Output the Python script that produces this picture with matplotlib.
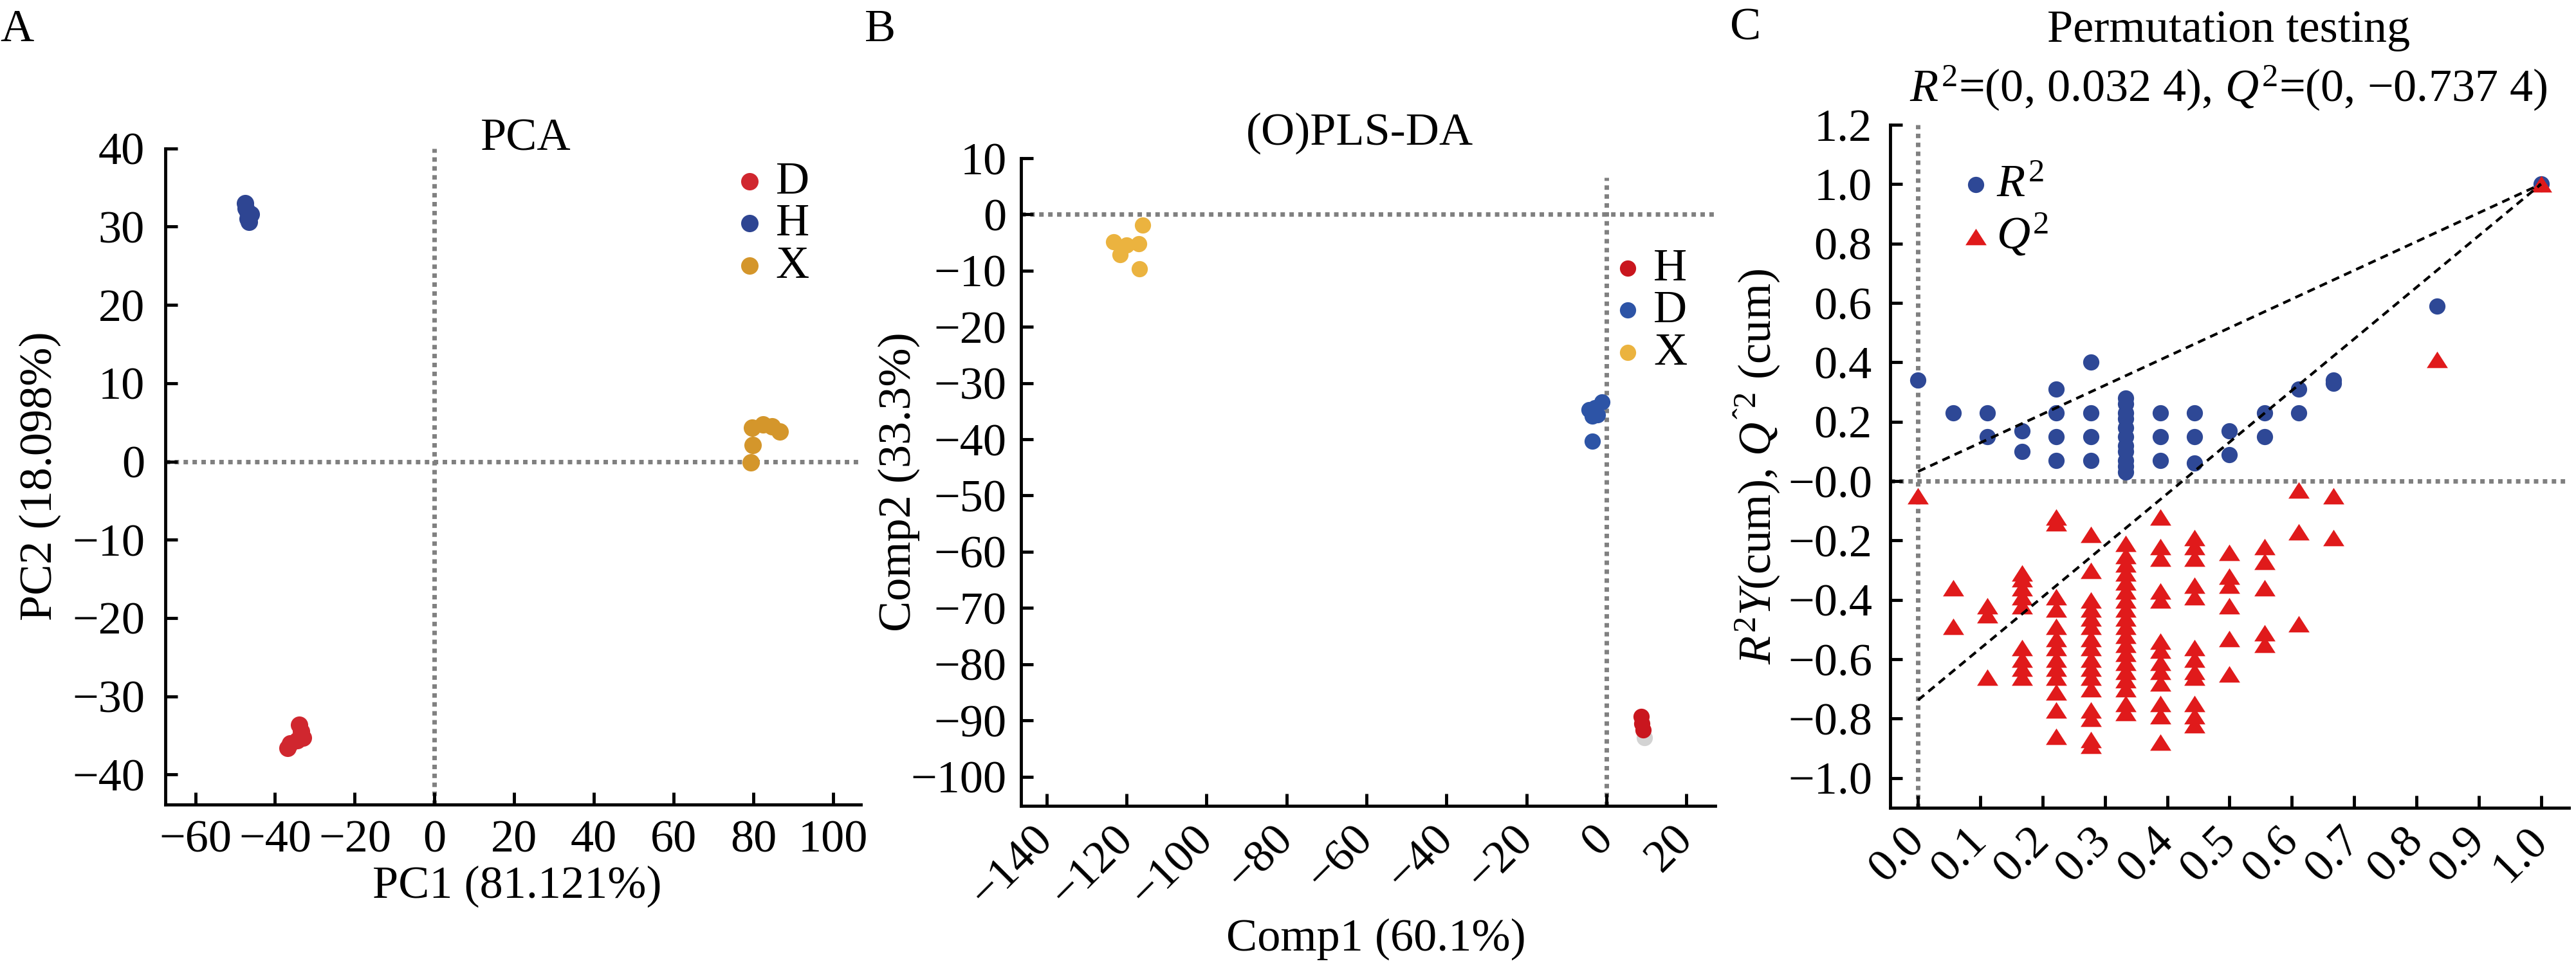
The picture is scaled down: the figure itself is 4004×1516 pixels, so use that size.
import matplotlib
matplotlib.use("Agg")
import matplotlib.pyplot as plt
import numpy as np
from matplotlib.ticker import FuncFormatter

plt.rcParams['font.family'] = ['Liberation Serif', 'DejaVu Serif']
plt.rcParams['mathtext.fontset'] = 'custom'
plt.rcParams['mathtext.rm'] = 'Liberation Serif'
plt.rcParams['mathtext.it'] = 'Liberation Serif:italic'
plt.rcParams['font.size'] = 52

# --- panel A: PCA scores ---
pca_D_x = [-34.0, -33.5, -33.0, -34.5, -36.2, -36.8]
pca_D_y = [-33.6, -34.5, -35.3, -35.6, -36.0, -36.6]
pca_H_x = [-47.5, -47.3, -46.8, -46.0, -46.8, -46.6]
pca_H_y = [33.0, 32.3, 31.8, 31.6, 31.0, 30.6]
pca_X_x = [79.6, 82.4, 84.6, 86.6, 79.8, 79.3]
pca_X_y = [4.3, 4.7, 4.5, 3.8, 2.1, -0.1]

# --- panel B: (O)PLS-DA scores ---
opls_H_x = [8.6, 8.9, 9.1]
opls_H_y = [-89.3, -90.6, -91.7]
opls_shadow_x = [9.5]
opls_shadow_y = [-93.1]
opls_D_x = [-4.3, -3.6, -2.9, -1.2, -2.3, -3.6]
opls_D_y = [-34.7, -35.9, -34.4, -33.3, -35.6, -40.3]
opls_X_x = [-123.2, -121.6, -120.0, -116.9, -116.0, -116.8]
opls_X_y = [-4.9, -7.2, -5.4, -5.2, -1.9, -9.7]

# --- panel C: permutation test ---
perm_cols = [0.0, 0.056, 0.111, 0.167, 0.222, 0.278, 0.333, 0.389,
             0.444, 0.5, 0.556, 0.611, 0.667, 0.833, 1.0]
r2_vals = [
    [0.34],
    [0.23],
    [0.23, 0.15],
    [0.17, 0.10],
    [0.31, 0.23, 0.15, 0.07],
    [0.40, 0.23, 0.15, 0.07],
    [0.28, 0.26, 0.23, 0.21, 0.18, 0.15, 0.12, 0.10, 0.07, 0.05, 0.03],
    [0.23, 0.15, 0.07],
    [0.23, 0.15, 0.06],
    [0.17, 0.09],
    [0.23, 0.15],
    [0.31, 0.23],
    [0.34, 0.33],
    [0.59],
    [1.0],
]
q2_vals = [
    [-0.05],
    [-0.36, -0.49],
    [-0.42, -0.45, -0.66],
    [-0.31, -0.33, -0.36, -0.39, -0.42, -0.56, -0.60, -0.63, -0.66],
    [-0.12, -0.14, -0.39, -0.43, -0.49, -0.53, -0.56, -0.60, -0.63, -0.66, -0.71, -0.77, -0.86],
    [-0.18, -0.30, -0.40, -0.43, -0.46, -0.49, -0.53, -0.56, -0.60, -0.63, -0.66, -0.70,
     -0.77, -0.80, -0.87, -0.89],
    [-0.21, -0.25, -0.28, -0.31, -0.34, -0.37, -0.40, -0.43, -0.46, -0.49, -0.52, -0.55,
     -0.58, -0.61, -0.64, -0.67, -0.70, -0.75, -0.78],
    [-0.12, -0.22, -0.26, -0.37, -0.40, -0.54, -0.57, -0.61, -0.64, -0.68, -0.75, -0.79, -0.88],
    [-0.19, -0.22, -0.26, -0.35, -0.39, -0.56, -0.60, -0.64, -0.66, -0.75, -0.79, -0.82],
    [-0.24, -0.32, -0.35, -0.42, -0.53, -0.65],
    [-0.22, -0.27, -0.36, -0.51, -0.55],
    [-0.03, -0.17, -0.48],
    [-0.05, -0.19],
    [0.41],
    [1.0],
]
fit_x = [0.0, 1.0]
r2_fit = [0.0324, 1.0]
q2_fit = [-0.7374, 1.0]

RED_A, BLUE_A, GOLD_A = '#d0272f', '#2e4592', '#d4962b'
RED_B, BLUE_B, GOLD_B = '#c9161e', '#2d54a6', '#ebb33f'
BLUE_C, RED_C = '#2e4896', '#e01a1b'
GREY = '#808080'
DOT = (0, (1, 1))
TRI = [(-1, -0.78), (1, -0.78), (0, 0.78)]


def style(ax, xpad, ypad):
    for s in ['top', 'right']:
        ax.spines[s].set_visible(False)
    for s in ['left', 'bottom']:
        ax.spines[s].set_linewidth(3.5)
    ax.tick_params(direction='in', length=14, width=3.5)
    ax.tick_params(axis='x', pad=xpad)
    ax.tick_params(axis='y', pad=ypad)


def minus(fmt):
    return FuncFormatter(lambda v, p: (fmt % np.round(v, 6)).replace('-', '\u2212'))


def tilt(ax):
    for lbl in ax.get_xticklabels():
        lbl.set_rotation(45)
        lbl.set_ha('right')
        lbl.set_va('center')
        lbl.set_rotation_mode('anchor')


fig = plt.figure(figsize=(40.04, 15.16), dpi=100)

# ---------------- A ----------------
ax = fig.add_axes([0.0642, 0.175, 0.2699, 0.6729])
ax.set_xlim(-67.5, 106.9)
ax.set_ylim(-43.8, 40)
ax.axhline(0, color=GREY, lw=5, ls=DOT, zorder=1)
ax.axvline(0, color=GREY, lw=5, ls=DOT, zorder=1)
ax.scatter(pca_D_x, pca_D_y, s=380, color=RED_A, lw=0, label='D', zorder=3)
ax.scatter(pca_H_x, pca_H_y, s=380, color=BLUE_A, lw=0, label='H', zorder=3)
ax.scatter(pca_X_x, pca_X_y, s=380, color=GOLD_A, lw=0, label='X', zorder=3)
ax.set_xticks(np.arange(-60, 101, 20))
ax.set_yticks(np.arange(-40, 41, 10))
ax.xaxis.set_major_formatter(minus('%d'))
ax.yaxis.set_major_formatter(minus('%d'))
style(ax, 17, 23)
ax.set_xlabel('PC1 (81.121%)')
ax.xaxis.set_label_coords(0.506, -0.093)
ax.set_ylabel('PC2 (18.098%)')
ax.yaxis.set_label_coords(-0.150, 0.5)
ax.text(0.518, 0.9967, 'PCA', transform=ax.transAxes, ha='center', va='baseline')
ax.legend(loc='upper left', bbox_to_anchor=(0.827, 0.981), frameon=False,
          handlelength=0.4, handletextpad=0.36, labelspacing=0.0,
          borderpad=0, borderaxespad=0, scatterpoints=1)

# ---------------- B ----------------
ax = fig.add_axes([0.3963, 0.1735, 0.2696, 0.6642])
ax.set_xlim(-146.4, 27.2)
ax.set_ylim(-105.2, 10)
ax.axhline(0, color=GREY, lw=5, ls=DOT, zorder=1)
ax.axvline(0, ymax=0.97, color=GREY, lw=5, ls=DOT, zorder=1)
ax.scatter(opls_shadow_x, opls_shadow_y, s=330, color='#d3d3d3', lw=0, zorder=2)
ax.scatter(opls_H_x, opls_H_y, s=330, color=RED_B, lw=0, label='H', zorder=3)
ax.scatter(opls_D_x, opls_D_y, s=330, color=BLUE_B, lw=0, label='D', zorder=3)
ax.scatter(opls_X_x, opls_X_y, s=330, color=GOLD_B, lw=0, label='X', zorder=3)
ax.set_xticks(np.arange(-140, 21, 20))
ax.set_yticks(np.arange(-100, 11, 10))
ax.xaxis.set_major_formatter(minus('%d'))
ax.yaxis.set_major_formatter(minus('%d'))
style(ax, 30, 16)
tilt(ax)
ax.set_xlabel('Comp1 (60.1%)')
ax.xaxis.set_label_coords(0.511, -0.173)
ax.set_ylabel('Comp2 (33.3%)')
ax.yaxis.set_label_coords(-0.145, 0.5)
ax.text(0.488, 1.0214, '(O)PLS-DA', transform=ax.transAxes, ha='center', va='baseline')
ax.legend(loc='upper left', bbox_to_anchor=(0.860, 0.862), frameon=False,
          handlelength=0.4, handletextpad=0.36, labelspacing=0.0,
          borderpad=0, borderaxespad=0, scatterpoints=1)

# ---------------- C ----------------
ax = fig.add_axes([0.7337, 0.1715, 0.2636, 0.7005])
ax.set_xlim(-0.045, 1.045)
ax.set_ylim(-1.1, 1.2)
ax.axhline(0, color=GREY, lw=5, ls=DOT, zorder=1)
ax.axvline(0, color=GREY, lw=5, ls=DOT, zorder=1)
r2_x = [c for c, vs in zip(perm_cols, r2_vals) for _ in vs]
r2_y = [v for vs in r2_vals for v in vs]
q2_x = [c for c, vs in zip(perm_cols, q2_vals) for _ in vs]
q2_y = [v for vs in q2_vals for v in vs]
ax.scatter(r2_x, r2_y, s=330, color=BLUE_C, lw=0, label='$R^2$', zorder=2)
ax.scatter(q2_x, q2_y, s=560, marker=TRI, color=RED_C, lw=0, label='$Q^2$', zorder=2)
ax.plot(fit_x, r2_fit, color='black', lw=3, ls=(0, (3, 2)), zorder=4)
ax.plot(fit_x, q2_fit, color='black', lw=3, ls=(0, (3, 2)), zorder=4)
ax.set_xticks(np.arange(0, 1.01, 0.1))
ax.set_yticks(np.arange(-1.0, 1.21, 0.2))
ax.xaxis.set_major_formatter(minus('%.1f'))
ax.yaxis.set_major_formatter(minus('%.1f'))
style(ax, 30, 20)
tilt(ax)
ax.set_ylabel('$R^2Y$(cum), $Q^{\\mathrm{\u02c6}2}$ (cum)')
ax.yaxis.set_label_coords(-0.159, 0.5)
ax.legend(loc='upper left', bbox_to_anchor=(0.109, 0.942), frameon=False,
          handlelength=0.5, handletextpad=0.2, labelspacing=0.12,
          borderpad=0, borderaxespad=0, scatterpoints=1)

fig.text(0.8651, 1 - 64.6 / 1516, 'Permutation testing', ha='center', va='baseline')
fig.text(0.8651, 1 - 158 / 1516, '$R^2$=(0, 0.032 4), $Q^2$=(0, \u22120.737 4)',
         ha='center', va='baseline')

# panel letters
fig.text(0.0, 1 - 64 / 1516, 'A', ha='left', va='baseline')
fig.text(1344 / 4004, 1 - 64 / 1516, 'B', ha='left', va='baseline')
fig.text(2689 / 4004, 1 - 62 / 1516, 'C', ha='left', va='baseline')

fig.savefig('out.png', dpi=100)
